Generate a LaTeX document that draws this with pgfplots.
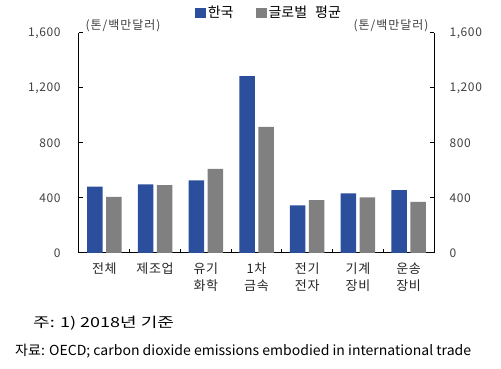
\documentclass[border=0pt]{standalone}
\usepackage{fontspec}
\setmainfont{Noto Sans CJK KR}
\newfontfamily\spaced[LetterSpace=8]{Noto Sans CJK KR}
\newfontfamily\spacedb[LetterSpace=5]{Noto Sans CJK KR}
\usepackage{pgfplots}
\pgfplotsset{compat=1.18}
\definecolor{kblue}{HTML}{2B4F9C}
\definecolor{kgray}{HTML}{808080}
\begin{document}
\begin{tikzpicture}[x=1pt,y=1pt]
\useasboundingbox (0,0) rectangle (501,369);
\pgfplotsset{
  common/.style={
    scale only axis, width=355pt, height=220pt,
    at={(79pt,116pt)}, anchor=south west,
    xmin=-0.5, xmax=6.5, ymin=0, ymax=1600,
    ytick={0,400,800,1200,1600},
    tick align=inside, major tick length=4pt,
    axis line style={line width=1pt, black},
    every tick/.style={black, line width=1pt},
    /pgf/number format/.cd, 1000 sep={,}, assume math mode=true,
  }
}
\begin{axis}[common,
  axis x line*=bottom, axis y line*=left,
  yticklabel style={font=\spacedb\fontsize{12}{12}\selectfont, xshift=-15pt, text=black!75},
  xtick={0,...,6},
  xticklabels={전체, 제조업, {유기\\화학}, {1차\\금속}, {전기\\전자}, {기계\\장비}, {운송\\장비}},
  xticklabel style={align=center, font=\spacedb\fontsize{13}{17}\selectfont, yshift=-6pt, text=black!85},
  major x tick style={draw=none},
  minor xtick={0.5,1.5,...,5.5},
  minor x tick style={draw=black, line width=1pt},
  minor tick length=4pt,
  legend style={at={(0.535,1.14)}, anchor=north, draw=none, fill=none,
    legend columns=2, font=\fontsize{14}{14}\selectfont,
    /tikz/every even column/.append style={column sep=20pt}},
  legend image code/.code={\fill[#1] (0pt,-5pt) rectangle (11pt,5pt);},
]
\addplot[ybar, bar width=15.5pt, bar shift=-9.5pt, fill=kblue, draw=none]
  coordinates {(0,482) (1,499) (2,528) (3,1287) (4,347) (5,434) (6,458)};
\addlegendentry{한국}
\addplot[ybar, bar width=15.5pt, bar shift=9.5pt, fill=kgray, draw=none]
  coordinates {(0,409) (1,494) (2,611) (3,918) (4,385) (5,405) (6,371)};
\addlegendentry{글로벌\hspace{8pt}평균}
\end{axis}
\begin{axis}[common,
  axis x line=none, axis y line*=right,
  yticklabel style={font=\spacedb\fontsize{12}{12}\selectfont, xshift=12pt, text=black!75},
]
\end{axis}
\node[font=\spaced\fontsize{12}{12}\selectfont, text=black!75] at (123,343) {(톤/백만달러)};
\node[font=\spaced\fontsize{12}{12}\selectfont, text=black!75] at (391,343) {(톤/백만달러)};
\node[anchor=west, inner sep=0pt, font=\fontsize{12}{12}\selectfont] at (33,46) {\scalebox{1.5}[1.15]{주: 1) 2018년 기준}};
\node[anchor=west, inner sep=0pt, font=\fontsize{12}{12}\selectfont] at (15,18) {\scalebox{1.17}[1.15]{자료: OECD; carbon dioxide emissions embodied in international trade}};
\end{tikzpicture}
\end{document}
